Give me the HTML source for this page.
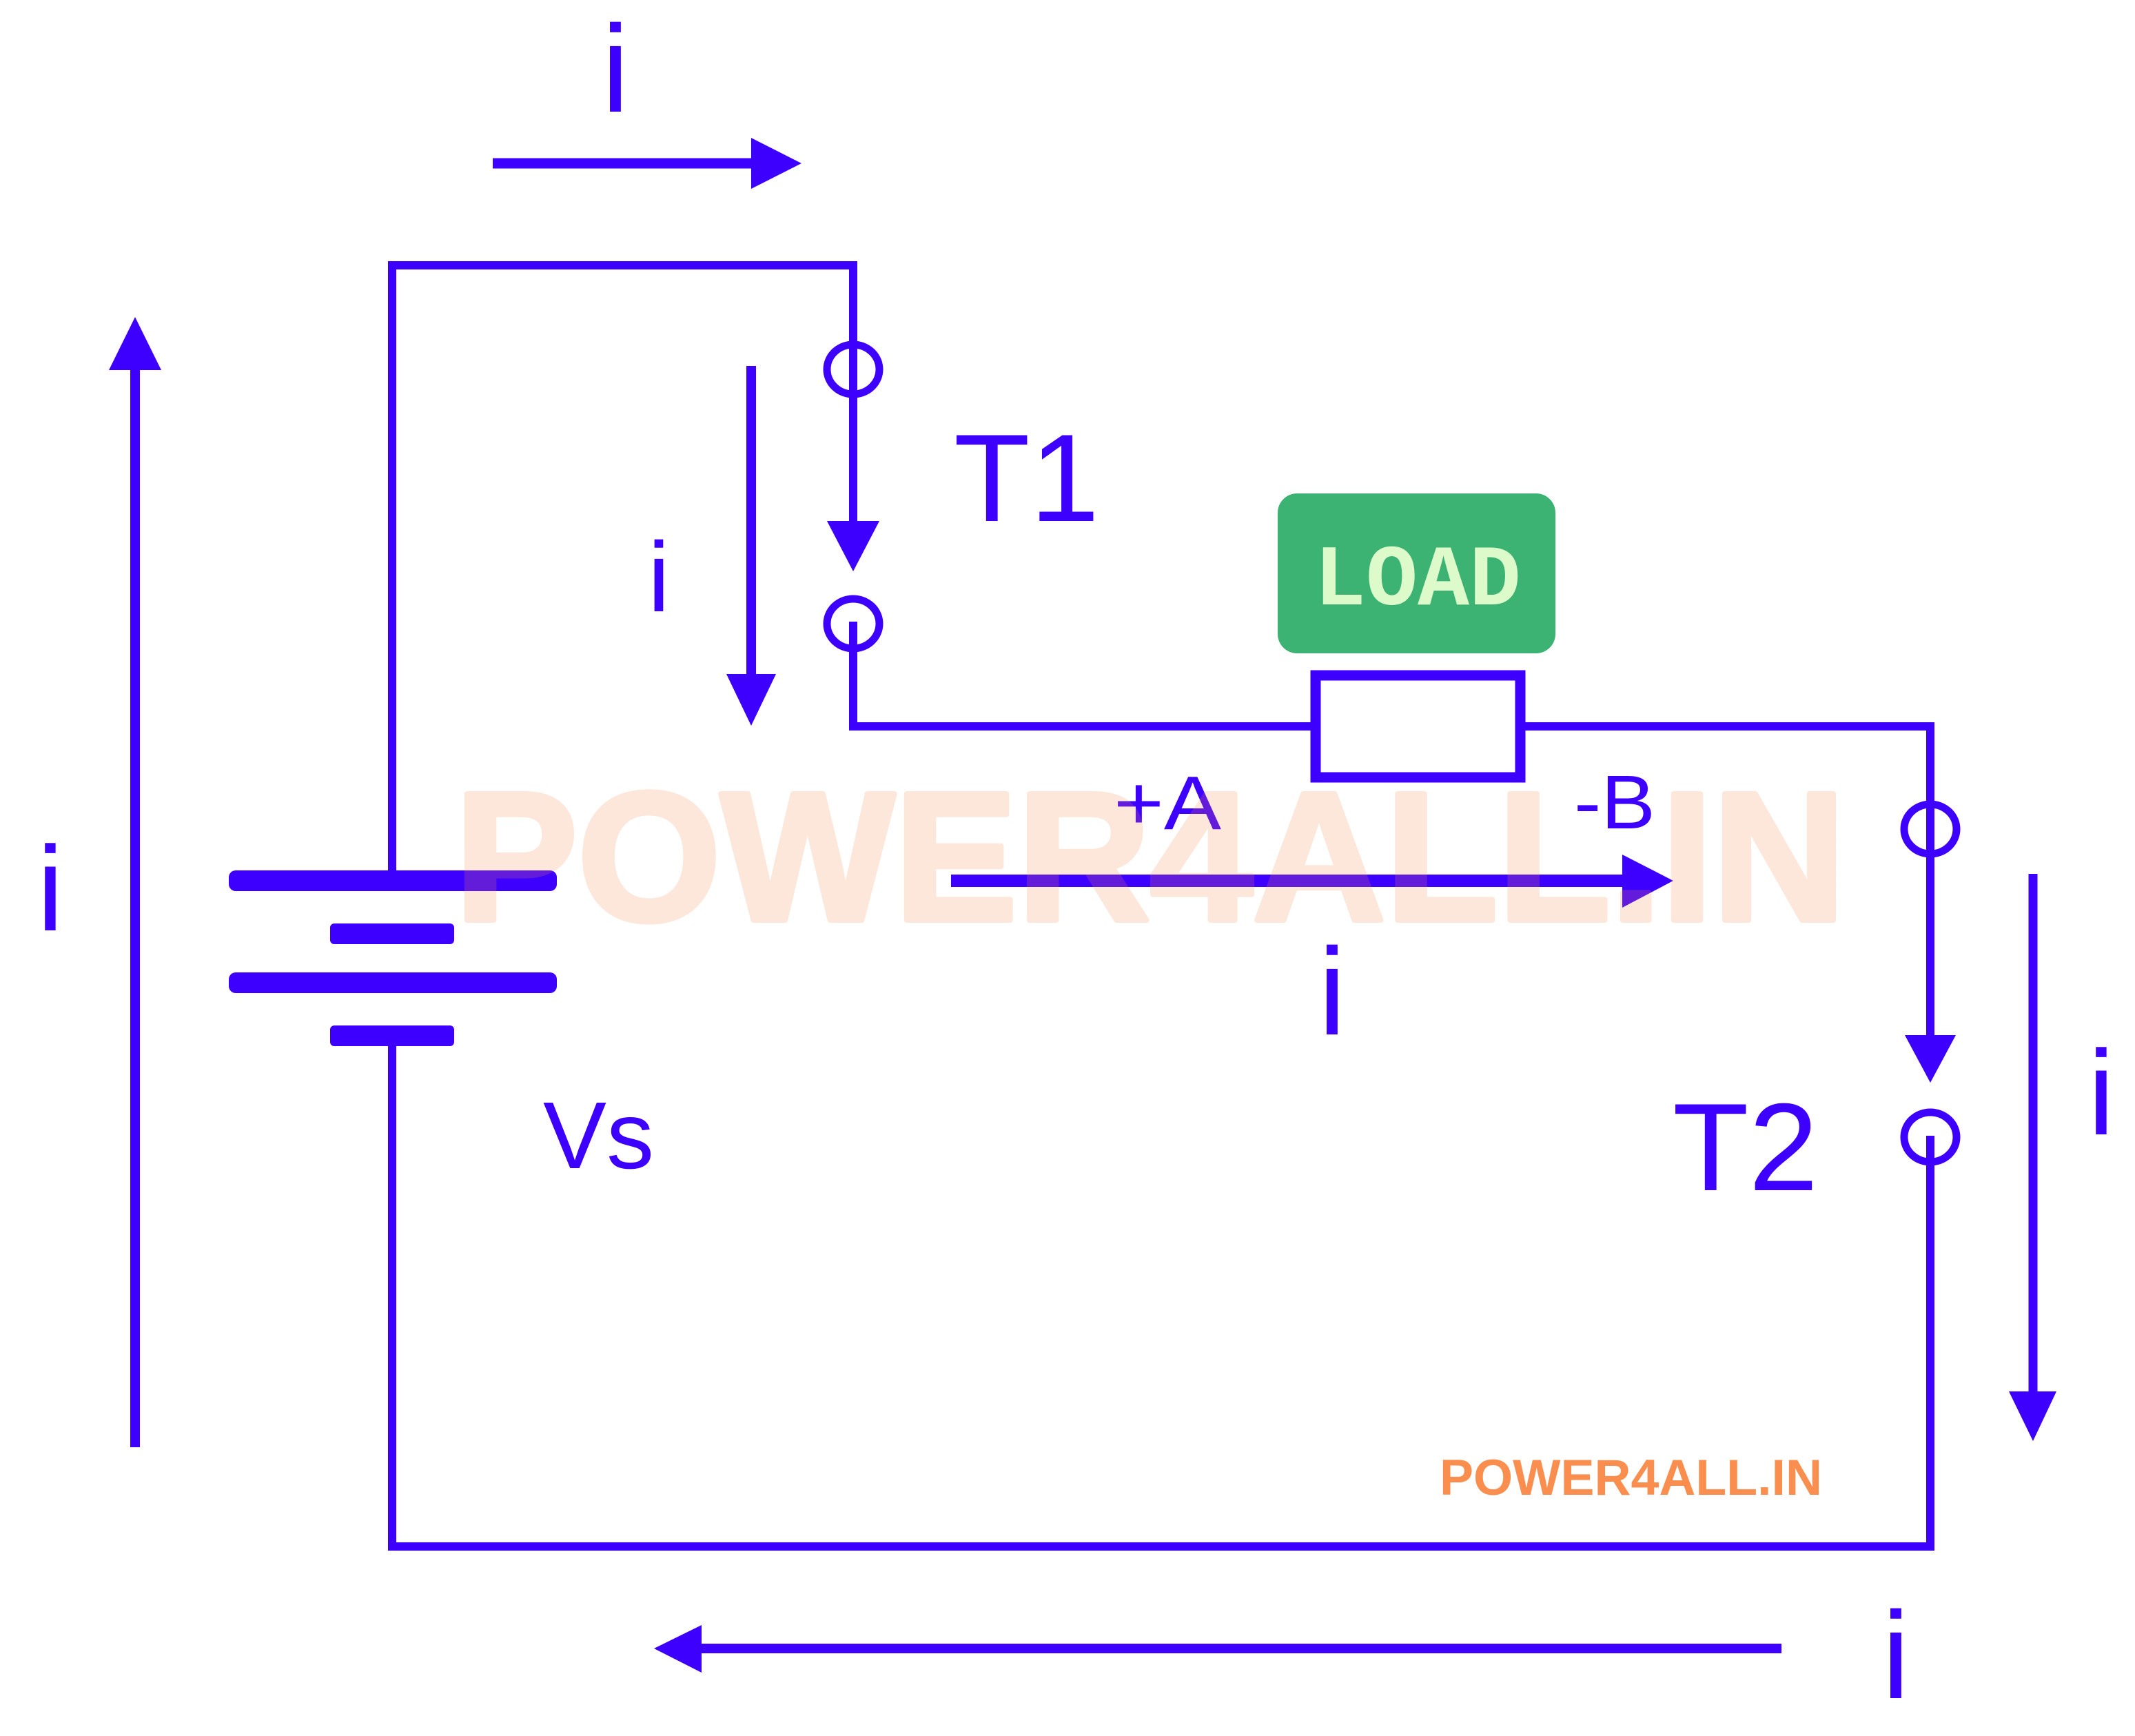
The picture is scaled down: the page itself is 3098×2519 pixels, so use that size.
<!DOCTYPE html>
<html>
<head>
<meta charset="utf-8">
<style>
  html, body { margin: 0; padding: 0; background: #ffffff; }
  svg { display: block; }
  .t { font-family: "Liberation Sans", Arial, sans-serif; fill: #3d00ff; }
</style>
</head>
<body>
<svg width="3098" height="2519" viewBox="0 0 3098 2519" xmlns="http://www.w3.org/2000/svg">
  <rect x="0" y="0" width="3098" height="2519" fill="#ffffff"/>

  <g stroke="#3d00ff" fill="none" stroke-width="12">
    <!-- left wire + top wire + T1 drop -->
    <path d="M569 1270 V385 H1238 V760"/>
    <!-- T1 lower terminal to resistor -->
    <path d="M1238 902 V1054 H1909"/>
    <!-- resistor right to T2 -->
    <path d="M2206 1054 H2801 V1505"/>
    <!-- T2 to bottom return -->
    <path d="M2801 1648 V2244 H569 V1510"/>
    <!-- terminal circles -->
    <ellipse cx="1238" cy="536" rx="38" ry="36" stroke-width="11"/>
    <ellipse cx="1238" cy="905" rx="38" ry="36" stroke-width="11"/>
    <ellipse cx="2801" cy="1203" rx="38" ry="36" stroke-width="11"/>
    <ellipse cx="2801" cy="1650" rx="38" ry="36" stroke-width="11"/>
    <!-- resistor -->
    <rect x="1909" y="980" width="297" height="148" stroke-width="15"/>
  </g>

  <!-- battery plates -->
  <g fill="#3d00ff">
    <rect x="332" y="1263" width="476" height="30" rx="10"/>
    <rect x="479" y="1340" width="180" height="30" rx="6"/>
    <rect x="332" y="1411" width="476" height="30" rx="10"/>
    <rect x="479" y="1488" width="180" height="30" rx="6"/>
  </g>

  <!-- current arrows: lines -->
  <g stroke="#3d00ff" fill="none" stroke-linecap="butt">
    <line x1="715" y1="237" x2="1095" y2="237" stroke-width="15"/>
    <line x1="196" y1="530" x2="196" y2="2100" stroke-width="14"/>
    <line x1="1090" y1="531" x2="1090" y2="985" stroke-width="14"/>
    <line x1="1380" y1="1278" x2="2360" y2="1278" stroke-width="18"/>
    <line x1="2950" y1="1268" x2="2950" y2="2025" stroke-width="13"/>
    <line x1="1012" y1="2392" x2="2585" y2="2392" stroke-width="14"/>
  </g>

  <!-- arrowheads -->
  <g fill="#3d00ff">
    <polygon points="1163,237 1090,200 1090,274"/>
    <polygon points="196,460 158,537 234,537"/>
    <polygon points="1238,829 1200,756 1276,756"/>
    <polygon points="1090,1053 1054,978 1126,978"/>
    <polygon points="2428,1278 2354,1240 2354,1317"/>
    <polygon points="2801,1571 2764,1502 2838,1502"/>
    <polygon points="2950,2091 2915,2019 2984,2019"/>
    <polygon points="949,2392 1018,2358 1018,2427"/>
  </g>

  <!-- current labels -->
  <g class="t" text-anchor="middle">
    <text x="893" y="162" font-size="180">i</text>
    <text x="956" y="887" font-size="144">i</text>
    <text x="73" y="1350" font-size="175">i</text>
    <text x="1933" y="1501" font-size="180">i</text>
    <text x="3049" y="1646" font-size="175">i</text>
    <text x="2751" y="2464" font-size="180">i</text>
  </g>

  <!-- terminal / source labels -->
  <text class="t" x="1384" y="756" font-size="181">T1</text>
  <text class="t" x="2427" y="1727" font-size="181">T2</text>
  <text class="t" x="788" y="1695" font-size="138">Vs</text>
  <text class="t" x="1616" y="1203" font-size="110" textLength="156" lengthAdjust="spacingAndGlyphs">+A</text>
  <text class="t" x="2284" y="1202" font-size="110" textLength="118" lengthAdjust="spacingAndGlyphs">-B</text>

  <!-- LOAD badge -->
  <rect x="1854" y="716" width="403" height="232" rx="28" fill="#3db373"/>
  <text x="2057" y="877" font-size="125" font-weight="bold" text-anchor="middle"
        font-family="Liberation Mono, monospace" fill="#ddfbca">LOAD</text>

  <!-- small brand -->
  <text x="2089" y="2169" font-size="73" font-weight="bold" fill="#f98e4f"
        font-family="Liberation Sans, Arial, sans-serif"
        textLength="555" lengthAdjust="spacingAndGlyphs">POWER4ALL.IN</text>

  <!-- big watermark -->
  <g opacity="0.2">
    <text x="660" y="1335" font-size="266" font-weight="bold" fill="#f58a4b"
          stroke="#f58a4b" stroke-width="8" stroke-linejoin="round"
          font-family="Liberation Sans, Arial, sans-serif"
          textLength="2018" lengthAdjust="spacingAndGlyphs">POWER4ALL.IN</text>
  </g>
</svg>
</body>
</html>
